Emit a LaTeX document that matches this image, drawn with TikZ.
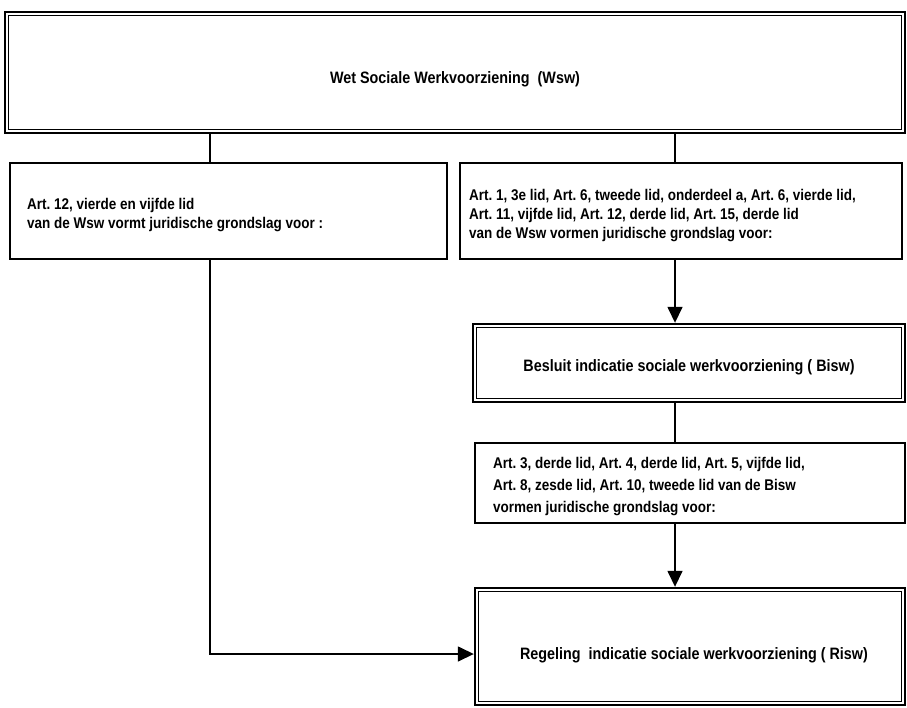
\documentclass[tikz,border=0pt]{standalone}
\usepackage{fontspec}
\setmainfont{Liberation Sans}[FakeStretch=0.87]
\usetikzlibrary{arrows.meta}
\begin{document}
\frenchspacing
\begin{tikzpicture}[x=1pt,y=-1pt,
  txt/.style={font=\fontsize{15.5}{19}\selectfont\bfseries,inner sep=0pt},
  ttl/.style={font=\fontsize{16.5}{19}\selectfont\bfseries,inner sep=0pt},
  box/.style={draw,line width=1.5pt,rectangle,inner sep=0pt},
  dbl/.style={draw,line width=2.4pt,rectangle,inner sep=0pt},
  conn/.style={line width=1.5pt},
  arr/.style={conn,-{Triangle[length=16pt,width=15pt]}}]
\useasboundingbox (0,0) rectangle (907,707);
% boxes
\node[dbl,minimum width=900pt,minimum height=121pt] (top) at (455,72.5) {};
\node[box,minimum width=437pt,minimum height=96pt] (left) at (228.5,211) {};
\node[box,minimum width=442pt,minimum height=96pt] (right) at (681,211) {};
\node[dbl,minimum width=432pt,minimum height=78pt] (bisw) at (689,363) {};
\node[box,minimum width=430pt,minimum height=80pt] (art3) at (690,483) {};
\node[dbl,minimum width=430pt,minimum height=117pt] (risw) at (690,646.5) {};
\foreach \n in {top,bisw,risw}{
  \draw[line width=1pt] ([xshift=4.5pt,yshift=-4.5pt]\n.north west) rectangle ([xshift=-4.5pt,yshift=4.5pt]\n.south east);
}
% texts
\node[ttl] (ttop) at (top.center) [yshift=-6.5pt] {Wet Sociale Werkvoorziening\ \ (Wsw)};
\node[txt,anchor=west,align=left] (tleft) at (27,215) {Art. 12, vierde en vijfde lid\\van de Wsw vormt juridische grondslag voor :};
\node[txt,anchor=west,align=left] (tright) at (469,216) {Art. 1, 3e lid, Art. 6, tweede lid, onderdeel a, Art. 6, vierde lid,\\Art. 11, vijfde lid, Art. 12, derde lid, Art. 15, derde lid\\van de Wsw vormen juridische grondslag voor:};
\node[ttl] (tbisw) at (689,367) {Besluit indicatie sociale werkvoorziening ( Bisw)};
\node[txt,anchor=west,align=left,font=\fontsize{15.5}{22}\selectfont\bfseries] (tart3) at (493,487) {Art. 3, derde lid, Art. 4, derde lid, Art. 5, vijfde lid,\\Art. 8, zesde lid, Art. 10, tweede lid van de Bisw\\vormen juridische grondslag voor:};
\node[ttl] (trisw) at (694,655) {Regeling\ \ indicatie sociale werkvoorziening ( Risw)};
% connectors
\coordinate (c1) at (210,654);
\draw[conn] (210,0 |- top.south) -- (210,0 |- left.north);
\draw[conn] (675,0 |- top.south) -- (675,0 |- right.north);
\draw[arr] (675,0 |- right.south) -- (675,0 |- bisw.north);
\draw[conn] (675,0 |- bisw.south) -- (675,0 |- art3.north);
\draw[arr] (675,0 |- art3.south) -- (675,0 |- risw.north);
\draw[arr] (210,0 |- left.south) -- (c1) -- (c1 -| risw.west);
\end{tikzpicture}
\end{document}
